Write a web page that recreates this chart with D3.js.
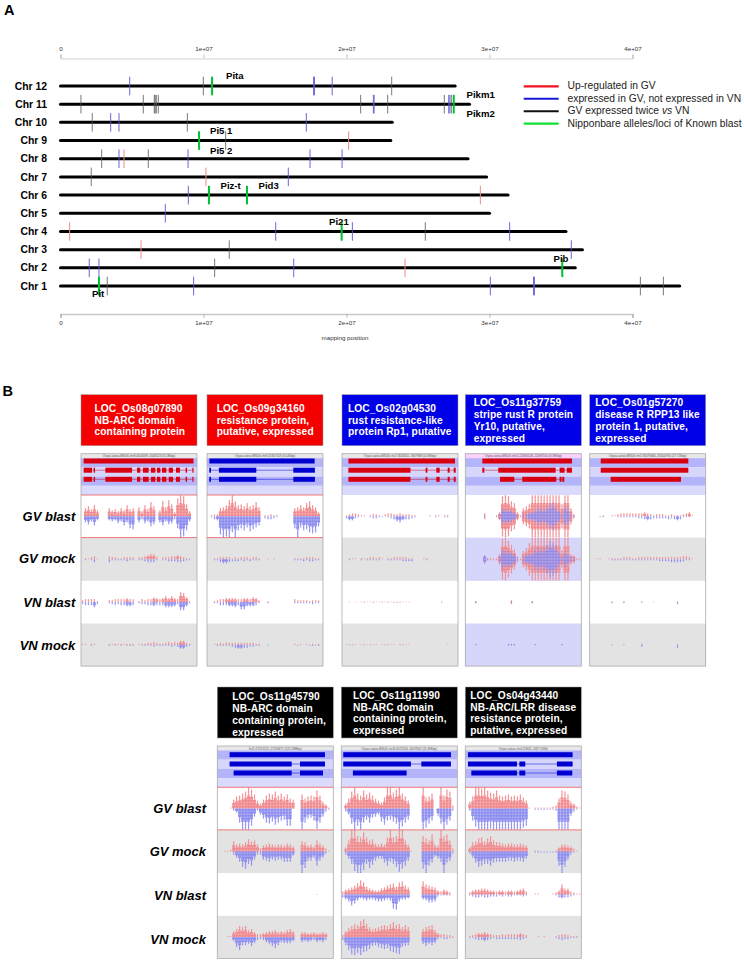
<!DOCTYPE html>
<html lang="en">
<head>
<meta charset="UTF-8">
<title>R gene expression</title>
<script src="https://d3js.org/d3.v7.min.js"></script>
<style>
  body { margin: 0; background: #fff; }
  text { font-family: "Liberation Sans", Arial, sans-serif; }
</style>
</head>
<body>
<script>
// ---- panel A data
const chromosomes = ["Chr 12","Chr 11","Chr 10","Chr 9","Chr 8","Chr 7","Chr 6","Chr 5","Chr 4","Chr 3","Chr 2","Chr 1"];
const chrLengths = [27600000,28600000,23200000,23100000,28500000,29800000,31300000,30000000,35350000,36500000,36000000,43300000];
const axisTicks = [0,10000000,20000000,30000000,40000000];
const axisLabels = ["0","1e+07","2e+07","3e+07","4e+07"];

const upInGV = [["Chr 9",20150000],["Chr 8",4440000],["Chr 7",10170000],["Chr 6",29360000],["Chr 4",640000],["Chr 3",5630000],["Chr 2",24090000]];
const notInVN = [["Chr 12",4840000],["Chr 12",17700000],["Chr 12",17760000],["Chr 12",19000000],["Chr 11",21880000],["Chr 11",21930000],["Chr 11",27150000],["Chr 11",27230000],
  ["Chr 10",3510000],["Chr 10",4090000],["Chr 10",17190000],["Chr 8",4090000],["Chr 8",8920000],["Chr 8",17450000],["Chr 8",19690000],["Chr 7",15930000],
  ["Chr 6",8940000],["Chr 5",7330000],["Chr 4",15050000],["Chr 4",20410000],["Chr 4",31410000],["Chr 3",35720000],["Chr 2",2010000],["Chr 2",2690000],["Chr 2",16310000],
  ["Chr 1",9310000],["Chr 1",30060000],["Chr 1",33080000],["Chr 1",33140000]];
const twiceVN = [["Chr 12",9990000],["Chr 12",23160000],["Chr 11",1430000],["Chr 11",5790000],["Chr 11",6560000],["Chr 11",6620000],["Chr 11",6700000],["Chr 11",6840000],["Chr 11",20990000],["Chr 11",22880000],["Chr 11",26840000],["Chr 11",27330000],
  ["Chr 10",2220000],["Chr 10",8870000],["Chr 9",11550000],["Chr 8",2880000],["Chr 8",6140000],["Chr 7",2150000],["Chr 4",25510000],["Chr 3",11800000],["Chr 2",10780000],["Chr 1",3270000],["Chr 1",40550000],["Chr 1",42160000]];
const knownBlast = [["Chr 12",10600000],["Chr 11",27500000],["Chr 9",9690000],["Chr 6",10380000],["Chr 6",13040000],["Chr 4",19660000],["Chr 2",35090000],["Chr 1",2690000]];

const lociNames = ["Pita","Pikm1","Pikm2","Pi5 1","Pi5 2","Piz-t","Pid3","Pi21","Pib","Pit"];
const lociAnchor = [[226,76],[466.5,95],[466.5,114],[210,131],[210,151],[220.5,185.5],[258.5,185.5],[329,222],[553.5,259],[92,294]];

const legendLabels = ["Up-regulated in GV","expressed in GV, not expressed in VN","GV expressed twice vs VN","Nipponbare alleles/loci of Known blast"];
const legendColors = ["#f01020","#1818d8","#101010","#10e030"];

// ---- panel B data
const conditions = ["GV blast","GV mock","VN blast","VN mock"];
const locusIds = ["LOC_Os08g07890","LOC_Os09g34160","LOC_Os02g04530","LOC_Os11g37759","LOC_Os01g57270","LOC_Os11g45790","LOC_Os11g11990","LOC_Os04g43440"];
const locusNotes = [
  ["NB-ARC domain","containing protein"],
  ["resistance protein,","putative, expressed"],
  ["rust resistance-like","protein Rp1, putative"],
  ["stripe rust R protein","Yr10, putative,","expressed"],
  ["disease R RPP13 like","protein 1, putative,","expressed"],
  ["NB-ARC domain","containing protein,","expressed"],
  ["NB-ARC domain","containing protein,","expressed"],
  ["NB-ARC/LRR disease","resistance protein,","putative, expressed"]];
const browserTitles = ["Oryza sativa MSU6 chr8:4504589..4508123 (3.53Kbp)","Oryza sativa MSU6 chr9:20357119 (3.54Kbp)","Oryza sativa MSU6 chr2:1803055..1807988 (4.93Kbp)","Oryza sativa MSU6 chr11:22095108..22097500 (3.39Kbp)","Oryza sativa MSU6 chr1:33079084..33104795 (27.71Kbp)","hr11:27221222..27243471 (122.28Mbp)","Oryza sativa MSU6 chr11:6572505..6547901 (15.39Kbp)","Oryza sativa chr4:25945..5327 (5Kb)"];

// exons as percent of the browser window: one list for each of the three gene rows
const exons = [
  [[[2.3,97]],[[2.3,9.5],[10.9,12.1],[21,44],[48.3,51.1],[53.4,58.3],[60.3,64.1],[65.5,68.4],[69.8,73.6],[75.6,79.3],[81.9,85.3],[90.2,91.4],[96,97]],[[2.3,9.5],[10.9,12.1],[21,44],[48.3,51.1],[53.4,58.3],[60.3,64.1],[65.5,68.4],[69.8,73.6],[75.6,79.3],[81.9,85.3],[90.2,91.4],[96,97]]],
  [[[2,92.8]],[[2,3.4],[10.3,42.5],[74.4,93]],[[2,3.4],[10.3,42.5],[74.4,93]]],
  [[[5.5,97.4]],[[5.5,59],[72.1,73.6],[81.3,84.2],[91.1,92.8],[96.3,98]],[[5.5,59],[72.1,73.6],[81.3,84.2],[91.1,92.8],[96.3,98]]],
  [[[14.7,92]],[[14.7,16.4],[28.4,77.9],[81.3,85.6],[87.4,92]],[[29.9,42.2],[49.1,78.4],[81.3,83],[83.6,85.3]]],
  [[[9.5,85]],[[9.5,85]],[[18.1,78.7]]],
  [[[10.6,92.8]],[[10.6,64.1],[71.3,92.8]],[[14.1,64.1],[71.3,91.1]]],
  [[[1.7,94.5]],[[1.7,60],[69,94.5]],[[10,56.3]]],
  [[[2.3,92.5]],[[2.3,44.5],[46.6,51.7],[79,92.5]],[[5.2,44.5],[46.6,51.7],[79,92.2]]]
];

// read depth per bin: forward then reverse for each of the four conditions
const depth08g07890 = [
  [0,8,10,7,11,6,0,0,0,8,6,7,5,8,6,11,7,8,0,9,5,11,7,14,10,0,6,15,9,16,12,4,18,21,20,12,5,0,0],
  [0,6,8,5,9,4,0,0,0,4,5,4,7,5,9,6,12,13,0,6,3,7,5,10,8,0,6,9,5,8,7,3,12,21,20,14,5,0,0],
  [0,1,1,2,3,1,0,0,0,3,2,2,1,1,2,2,2,2,0,2,2,3,4,5,5,2,0,2,2,2,3,3,4,3,2,1,1,0,0],
  [0,1,0,1,3,0,0,0,0,3,1,1,1,1,1,2,1,1,0,1,1,2,3,3,3,1,0,1,1,2,2,2,3,3,2,1,1,0,0],
  [2,3,3,3,3,1,0,0,0,2,2,3,3,3,3,4,3,3,0,1,3,2,3,3,5,4,3,4,6,4,6,4,3,10,9,5,1,0,0],
  [2,3,3,3,5,2,0,0,0,1,2,3,2,3,3,4,4,3,0,1,2,2,3,3,4,3,3,3,5,5,5,4,2,8,8,4,1,0,0],
  [1,1,0,1,1,0,0,0,0,1,1,1,1,1,1,1,1,1,0,1,1,1,2,2,3,2,1,1,2,3,2,3,2,4,4,2,1,0,0],
  [0,0,0,1,0,0,0,0,0,1,0,1,0,1,0,1,1,1,0,0,1,1,1,1,2,1,1,1,1,1,2,1,2,4,4,2,1,0,0]];
const depth09g34160 = [
  [0,1,2,2,8,9,11,16,21,15,11,12,10,13,10,11,14,9,0,1,1,2,1,1,0,0,0,0,0,8,9,11,9,13,15,11,9,4,0],
  [0,1,3,4,18,21,20,21,16,21,14,12,14,11,15,13,11,9,0,2,3,3,2,1,0,0,0,0,0,12,21,11,14,13,16,17,16,10,0],
  [0,0,1,1,2,2,2,2,1,2,1,2,2,2,1,2,2,1,0,0,1,0,1,0,0,0,0,0,0,1,1,1,1,2,2,2,1,1,0],
  [0,0,1,1,3,4,4,3,2,2,2,1,2,1,2,1,1,1,0,0,0,0,0,0,0,0,0,0,0,1,1,1,2,1,2,2,1,1,0],
  [0,0,1,2,3,3,4,4,4,4,3,3,4,4,3,5,4,2,0,0,1,0,0,0,0,0,0,0,0,3,2,2,2,2,1,2,2,2,0],
  [0,0,1,1,3,3,3,4,4,5,3,7,7,4,4,4,3,1,0,0,1,0,0,0,0,0,0,0,0,1,1,1,1,1,1,2,1,1,0],
  [0,0,1,1,2,1,2,2,2,2,2,2,2,2,2,2,1,1,0,0,0,0,0,0,0,0,0,0,0,1,0,1,0,1,0,1,0,1,0],
  [0,0,0,1,1,1,1,1,2,3,4,4,3,3,2,2,1,1,0,0,1,0,0,0,0,0,0,0,0,0,1,0,0,0,1,1,1,1,0]];
const depth02g04530 = [
  [0,1,2,3,3,2,1,1,0,1,2,2,1,0,2,3,3,2,2,3,2,2,2,1,1,0,0,0,0,1,0,1,1,0,1,1,0,0,0],
  [0,2,4,4,2,1,0,0,0,1,2,2,1,1,0,1,2,3,5,6,4,3,3,2,1,0,0,0,0,0,0,1,0,0,1,1,0,0,0],
  [0,0,1,1,1,0,1,1,1,2,2,1,2,1,0,1,1,2,2,2,2,2,1,1,0,0,0,1,1,0,0,0,0,0,0,0,0,0,0],
  [0,0,1,0,0,0,1,0,1,1,1,1,1,0,0,1,1,1,1,1,2,2,2,2,0,0,0,0,1,0,0,0,0,0,0,0,0,0,0],
  [0,0,.5,0,.5,0,.5,.5,.5,.5,.5,.5,.5,.5,.5,.5,.5,.5,.5,.5,.5,.5,.5,0,0,0,0,0,0,0,0,0,0,.5,0,0,0,0,0],
  [0,0,0,0,0,0,0,.5,0,0,.5,0,0,.5,0,.5,0,.5,.5,.5,0,0,0,0,0,0,0,0,0,0,0,0,0,.5,0,0,0,0,0],
  [0,.5,.5,.5,.5,0,.5,.5,.5,.5,.5,.5,0,.5,.5,.5,.5,.5,0,.5,.5,.5,.5,0,0,0,0,0,0,0,0,0,0,0,0,.5,0,0,0],
  [0,0,.5,.5,0,0,0,.5,0,.5,0,0,0,0,.5,.5,0,0,0,.5,.5,0,0,0,0,0,0,0,0,0,0,0,0,0,0,0,0,0,0]];
const depth11g37759 = [
  [0,0,0,0,0,0,3,0,0,0,1,4,20,21,20,15,13,4,1,8,10,12,21,21,21,21,21,21,21,21,21,21,12,21,21,8,2,0,0],
  [0,0,0,0,0,0,1,0,0,0,0,2,8,7,7,6,4,1,0,2,3,4,5,6,9,8,7,10,12,14,9,6,2,10,8,2,1,0,0],
  [0,0,0,0,0,0,4,1,1,1,1,5,20,21,18,14,10,3,1,8,11,16,21,21,21,21,21,21,21,21,21,21,9,21,21,5,4,1,1],
  [0,0,0,0,0,0,4,1,0,0,0,3,10,8,8,7,5,1,0,3,5,6,6,10,12,10,11,14,18,16,14,7,2,8,5,3,2,0,0],
  [0,0,0,1,0,0,0,0,0,0,0,0,0,0,0,2,0,0,0,0,0,0,1,0,0,0,0,0,0,0,0,0,0,0,0,0,0,0,0],
  [0,0,0,1,0,0,0,0,0,0,0,0,0,0,0,1,0,0,0,0,0,0,1,0,0,0,0,0,0,0,0,0,0,0,0,0,0,0,0],
  [0,0,0,.5,0,0,0,0,0,0,0,0,0,0,.5,.5,.5,0,0,0,0,0,0,.5,0,0,0,0,0,0,0,0,.5,0,0,0,0,0,0],
  [0,0,0,.5,0,0,0,0,0,0,0,0,0,0,1,1,1,0,0,0,0,0,0,.5,0,0,0,0,0,0,0,0,.5,0,0,0,0,0,0]];
const depth01g57270 = [
  [0,0,0,0,1,0,0,1,1,2,3,3,3,3,3,3,3,3,4,3,2,1,2,2,2,1,1,2,1,1,1,2,3,4,1,0,0,0,0],
  [0,0,0,1,1,0,0,0,0,1,1,1,1,1,1,1,2,2,3,4,3,2,2,2,2,2,3,2,3,4,3,1,1,1,0,0,0,0,0],
  [0,0,1,1,0,0,1,1,1,1,1,2,2,2,1,1,2,2,2,2,2,2,2,2,2,2,2,2,2,2,2,3,3,2,1,0,0,0,0],
  [0,0,0,0,0,0,0,1,1,1,1,1,1,1,1,1,1,1,1,1,1,1,1,2,2,2,2,3,3,3,3,2,1,1,0,0,0,0,0],
  [0,0,0,0,0,0,0,1,0,0,0,1,0,0,0,0,0,1,0,0,0,.5,0,0,0,0,0,0,0,1,0,0,0,0,0,0,0,0,0],
  [0,0,0,0,0,0,0,1,0,0,0,1,0,0,0,0,0,.5,0,0,0,0,0,0,0,0,0,0,0,2,0,0,0,0,0,0,0,0,0],
  [0,0,0,0,0,0,0,.5,0,0,0,.5,0,0,0,0,0,1,0,0,0,0,0,0,0,0,0,0,0,.5,0,0,0,0,0,0,0,0,0],
  [0,0,0,0,0,0,0,.5,0,0,0,.5,0,0,0,0,0,2,0,0,0,0,0,0,0,0,0,0,0,3,0,0,0,0,0,0,0,0,0]];
const depth11g45790 = [
  [0,0,0,0,1,9,12,13,15,17,21,19,14,8,5,9,13,15,14,17,13,15,12,14,10,9,0,0,14,10,12,13,12,18,13,7,4,1,0],
  [0,0,0,0,0,2,4,14,21,21,21,17,8,2,6,10,14,15,13,16,14,12,11,17,17,0,0,0,21,14,10,9,12,20,14,8,3,1,0],
  [0,0,1,1,2,10,7,8,7,9,12,10,11,7,3,6,7,8,7,6,7,7,6,8,7,5,0,0,10,9,6,7,5,11,8,6,3,1,0],
  [0,0,0,0,0,3,6,10,15,17,12,14,8,3,3,8,9,10,8,9,8,8,10,10,10,4,0,0,21,16,9,9,6,14,9,6,2,0,0],
  [0,0,0,0,0,0,0,0,0,0,0,0,0,0,0,0,0,0,0,0,0,0,0,0,0,0,0,0,0,0,0,0,0,.5,0,0,0,0,0],
  [0,0,0,0,0,0,0,0,0,0,0,0,0,0,0,0,0,0,0,0,0,0,0,0,0,0,0,0,0,0,0,0,0,0,0,0,0,0,0],
  [0,0,0,1,1,6,8,11,10,11,7,8,5,3,3,4,5,6,6,7,5,6,5,7,8,6,0,0,5,5,4,4,5,4,4,5,4,0,0],
  [0,0,0,0,0,4,10,13,8,8,7,9,6,3,2,3,5,7,9,11,8,5,6,6,6,4,0,0,5,4,5,4,3,5,4,5,3,0,0]];
const depth11g11990 = [
  [0,5,10,17,21,15,13,18,14,16,13,10,8,6,11,21,21,16,19,21,15,12,8,0,0,0,0,21,11,12,15,0,0,21,13,19,17,3,0],
  [0,3,6,15,21,17,21,14,11,14,9,8,6,13,16,12,11,13,15,21,18,14,11,0,0,0,0,21,19,15,12,0,7,15,21,16,12,2,0],
  [0,4,11,21,21,15,14,19,14,11,12,8,7,8,7,14,21,14,15,21,21,11,7,1,0,0,0,15,13,11,17,7,6,21,15,17,11,3,0],
  [0,3,7,12,19,21,21,18,12,16,13,9,7,7,11,14,10,12,15,20,17,14,9,0,0,0,0,17,21,14,11,5,7,10,21,11,9,2,0],
  [3,5,6,7,9,11,14,12,8,6,5,4,4,6,7,9,10,11,8,12,13,9,7,0,0,0,0,13,10,9,8,7,4,3,5,4,2,0,0],
  [3,5,7,11,9,6,4,5,6,5,5,6,7,7,6,5,6,14,15,7,5,5,4,0,0,0,0,5,6,8,8,7,2,1,1,1,1,0,0],
  [2,6,9,11,13,12,16,18,13,10,8,9,10,11,12,11,13,15,12,13,10,12,10,0,0,0,0,8,10,11,12,7,4,3,3,2,2,1,0],
  [3,8,13,17,18,16,18,15,14,12,9,8,10,11,12,11,14,15,16,17,10,9,8,0,0,0,0,7,9,7,8,6,2,1,2,2,1,1,0]];
const depth04g43440 = [
  [0,7,12,21,21,20,21,18,16,15,18,13,12,13,14,12,13,12,14,11,8,1,0,1,1,1,1,1,1,2,3,10,18,17,14,7,5,2,1],
  [0,2,12,18,21,21,21,21,20,21,21,21,21,21,21,21,21,21,21,19,17,0,0,1,1,1,1,1,1,1,2,21,21,21,21,7,3,1,0],
  [0,4,9,10,13,14,10,13,15,11,9,9,8,7,8,8,7,7,8,7,6,0,0,1,1,0,0,0,0,0,1,4,7,7,6,5,3,1,0],
  [0,2,6,11,15,14,12,12,14,11,10,10,10,10,9,9,10,9,9,10,7,0,0,1,1,1,1,1,1,1,1,14,21,15,8,3,1,0,0],
  [0,2,4,5,5,6,6,5,4,4,3,4,4,3,4,4,3,4,5,6,3,0,0,1,1,0,0,0,0,1,2,4,10,6,6,3,2,1,1],
  [0,1,2,3,3,2,3,3,2,2,2,1,2,1,2,2,1,1,1,2,1,0,0,0,0,0,0,0,0,0,1,3,4,3,3,2,1,0,0],
  [0,1,2,3,4,4,5,4,3,2,2,2,3,2,3,3,3,3,4,3,2,0,0,0,1,0,1,0,0,0,1,2,3,3,2,1,1,1,0],
  [0,1,1,2,3,3,4,3,2,1,2,2,2,2,2,2,2,2,3,2,1,0,0,0,0,0,0,0,0,0,1,2,3,2,2,1,1,1,0]];
const depths = [depth08g07890,depth09g34160,depth02g04530,depth11g37759,depth01g57270,depth11g45790,depth11g11990,depth04g43440];

// ---- page
const svg = d3.select("body").append("svg").attr("width",744).attr("height",963).style("display","block");

// stacked reads look: a faint rule every read height
const defs = svg.append("defs");
[["readsRed","#ef8186"],["readsBlue","#8484ee"]].forEach(p=>{
  const pat = defs.append("pattern").attr("id",p[0]).attr("patternUnits","userSpaceOnUse").attr("width",4).attr("height",1.5);
  pat.append("rect").attr("width",4).attr("height",1.5).attr("fill",p[1]);
  pat.append("rect").attr("y",1).attr("width",4).attr("height",.5).attr("fill","#fff").attr("opacity",.35);
});

// panel A
svg.append("text").attr("x",4).attr("y",15).attr("font-size",14.5).attr("font-weight","bold").text("A");
svg.append("text").attr("x",2.5).attr("y",396).attr("font-size",14.5).attr("font-weight","bold").text("B");

const x = d3.scaleLinear().domain([0,40000000]).range([60.5,632.5]);
const y = d3.scalePoint().domain(chromosomes).range([86,286]);

function styleAxis(g, w) {
  g.selectAll("path").attr("stroke","#c8c8c8").attr("stroke-width",w);
  g.selectAll("line").attr("stroke","#999").attr("stroke-width",.6);
  g.selectAll("text").attr("font-size",6.2).attr("fill","#333").attr("font-family","'Liberation Sans'");
}
svg.append("g").attr("transform","translate(0,58.5)")
  .call(d3.axisTop(x).tickValues(axisTicks).tickFormat((d,i)=>axisLabels[i]).tickSizeOuter(0).tickSize(4).tickPadding(4))
  .call(styleAxis,.8);
svg.append("g").attr("transform","translate(0,314)")
  .call(d3.axisBottom(x).tickValues(axisTicks).tickFormat((d,i)=>axisLabels[i]).tickSizeOuter(0).tickSize(4).tickPadding(3))
  .call(styleAxis,1.5);
svg.append("text").attr("x",345).attr("y",340).attr("text-anchor","middle").attr("font-size",6.2).attr("fill","#333").text("mapping position");

svg.selectAll(".chr").data(chromosomes).enter().append("line").attr("class","chr")
  .attr("x1",x(0)).attr("x2",(d,i)=>x(chrLengths[i]))
  .attr("y1",d=>y(d)).attr("y2",d=>y(d))
  .attr("stroke","#000").attr("stroke-width",3).attr("stroke-linecap","round");
svg.selectAll(".chrlab").data(chromosomes).enter().append("text").attr("class","chrlab")
  .attr("x",47).attr("y",d=>y(d)).attr("dy",".35em").attr("text-anchor","end")
  .attr("font-size",10.4).attr("font-weight","bold").text(d=>d);

function drawMarks(list, color, w, half) {
  svg.append("g").selectAll("line").data(list).enter().append("line")
    .attr("x1",d=>x(d[1])).attr("x2",d=>x(d[1]))
    .attr("y1",d=>y(d[0])-half).attr("y2",d=>y(d[0])+half)
    .attr("stroke",color).attr("stroke-width",w);
}
drawMarks(upInGV,"#f28a8a",1,9.3);
drawMarks(notInVN,"#5656d4",.9,9.3);
drawMarks(twiceVN,"#555",.8,9.3);
drawMarks(knownBlast,"#00c030",2,9.3);

svg.selectAll(".locus").data(lociNames).enter().append("text").attr("class","locus")
  .attr("x",(d,i)=>lociAnchor[i][0]).attr("y",(d,i)=>lociAnchor[i][1]).attr("dy",".35em")
  .attr("font-size",9.6).attr("font-weight","bold").text(d=>d);

// legend
const legendY = d3.scaleLinear().domain([0,3]).range([86.3,123.7]);
legendLabels.forEach((t,i)=>{
  svg.append("line").attr("x1",523.7).attr("x2",558.7).attr("y1",legendY(i)).attr("y2",legendY(i))
    .attr("stroke",legendColors[i]).attr("stroke-width",2.2);
  const el = svg.append("text").attr("x",567.5).attr("y",legendY(i)-.5).attr("dy",".35em").attr("font-size",10.3).attr("fill","#222");
  if (t.includes(" vs ")) {
    const p = t.split(" vs ");
    el.append("tspan").text(p[0]+" ");
    el.append("tspan").attr("font-style","italic").text("vs");
    el.append("tspan").text(" "+p[1]);
  } else el.text(t);
});

// panel B layout
const panelLefts = [81,207,342,465.3,589.7,217.3,341.3,465.3];
const panelTops = [453.7,453.7,453.7,453.7,453.7,746,746,746];
const headerColors = ["#f40000","#f40000","#0000e6","#0000e6","#0000e6","#000","#000","#000"];
const textLefts = [94.5,216.7,348,473.7,595.3,232.3,353,470.3];
const textFirstLine = [408.3,408.3,408.3,402.7,402.7,696.7,695.3,695.3];
const panelW = 116, headerGap = 8, headerH = 51;
const trackTops = [41.3,83.9,127.2,169.8,212.4];
const stripeColors = ["#b4b4fa","#d6d6fd","#b4b4fa","#dadafd"];

locusIds.forEach((id,p)=>{
  const left = panelLefts[p], top = panelTops[p];
  const overlap = p===3;
  const strong = p<2 || p>=5;
  const g = svg.append("g").attr("transform",`translate(${left},${top})`);

  // coloured header with locus name
  svg.append("rect").attr("x",left).attr("y",top-headerGap-headerH).attr("width",panelW).attr("height",headerH)
    .attr("fill",headerColors[p]).attr("stroke","#999").attr("stroke-width",.5);
  [id].concat(locusNotes[p]).forEach((t,i)=>{
    svg.append("text").attr("x",textLefts[p]).attr("y",textFirstLine[p]+i*11.8).attr("dy",".35em")
      .attr("font-size",10.2).attr("font-weight","bold").attr("fill","#fff").attr("letter-spacing",.1).text(t);
  });

  // browser title and stripes
  g.append("rect").attr("width",panelW).attr("height",5).attr("fill",p===3?"#fbd2fb":"#e8e8e8");
  g.append("text").attr("x",panelW/2).attr("y",3.6).attr("text-anchor","middle").attr("font-size",3).attr("fill","#555").text(browserTitles[p]);
  stripeColors.forEach((c,i)=>{
    g.append("rect").attr("y",4.5+i*9.2).attr("width",panelW).attr("height",9.2).attr("fill",c);
  });

  // gene models
  const gx = d3.scaleLinear().domain([0,100]).range([0,panelW]);
  const rowY = top>600 ? [8.7,18,27] : [7.3,16.5,25.6];
  const geneColor = (p===1||p>=5) ? "#0000d0" : "#d80010";
  exons[p].forEach((row,r)=>{
    if (row.length>1) {
      g.append("line").attr("x1",gx(row[0][0])).attr("x2",gx(row[row.length-1][1]))
        .attr("y1",rowY[r]).attr("y2",rowY[r]).attr("stroke",geneColor).attr("stroke-width",.5);
    }
    g.selectAll(null).data(row).enter().append("rect")
      .attr("x",d=>gx(d[0])).attr("width",d=>gx(d[1])-gx(d[0]))
      .attr("y",rowY[r]-2.5).attr("height",5).attr("fill",geneColor);
  });

  // four read tracks
  conditions.forEach((c,t)=>{
    const ty = trackTops[t], th = trackTops[t+1]-ty, mid = ty+th/2;
    const back = t%2===0 ? "#fff" : (p===3 ? "#d6d6fb" : "#e3e3e3");
    g.append("rect").attr("y",ty).attr("width",panelW).attr("height",th).attr("fill",back);
    const bins = d3.scaleBand().domain(d3.range(39)).range([0,panelW]);
    const dy = d3.scaleLinear().domain([0,21]).range([0,th/2-.2]);
    const bw = bins.bandwidth();

    // forward reads in red above the centre line, reverse in blue below
    // each bin is a wide stack of the common reads with a thin spike of the deepest
    function strand(vals, fill, above, alpha) {
      const h = (d,k)=>dy(d)*k*(overlap?2:1);
      const yy = (d,k)=>(above||overlap) ? mid-dy(d)*k : mid;
      const wide = vals.map(d=>d>3?bw:0);
      g.selectAll(null).data(vals).enter().append("rect")
        .attr("x",(d,i)=>bins(i)).attr("width",(d,i)=>wide[i])
        .attr("y",d=>yy(d,.62)).attr("height",d=>h(d,.62))
        .attr("fill",fill).attr("opacity",alpha);
      g.selectAll(null).data(vals).enter().append("rect")
        .attr("x",(d,i)=>bins(i)+bw*.3).attr("width",bw*.42)
        .attr("y",d=>yy(d,1)).attr("height",d=>h(d,1))
        .attr("fill",fill).attr("opacity",alpha);
    }
    strand(depths[p][t*2],"url(#readsRed)",true,.95);
    strand(depths[p][t*2+1],"url(#readsBlue)",false,overlap?.8:.95);
  });

  // red rules round the GV blast track on the sets with gene-body signal
  g.append("rect").attr("width",panelW).attr("height",trackTops[4]).attr("fill","none").attr("stroke","#aaa").attr("stroke-width",.8);
  if (strong) {
    [trackTops[0],trackTops[1]].forEach(v=>{
      g.append("line").attr("x1",0).attr("x2",panelW).attr("y1",v).attr("y2",v).attr("stroke","#ee6a6a").attr("stroke-width",.9);
    });
  }
});

// condition labels, two rows of panels
const labelRows = [[75.3,[516,558,602,645]],[206,[808,851.7,895,939]]];
labelRows.forEach(row=>{
  conditions.forEach((c,i)=>{
    svg.append("text").attr("x",row[0]).attr("y",row[1][i]).attr("dy",".35em").attr("text-anchor","end")
      .attr("font-size",13).attr("font-weight","bold").attr("font-style","italic").text(c);
  });
});
</script>
</body>
</html>
